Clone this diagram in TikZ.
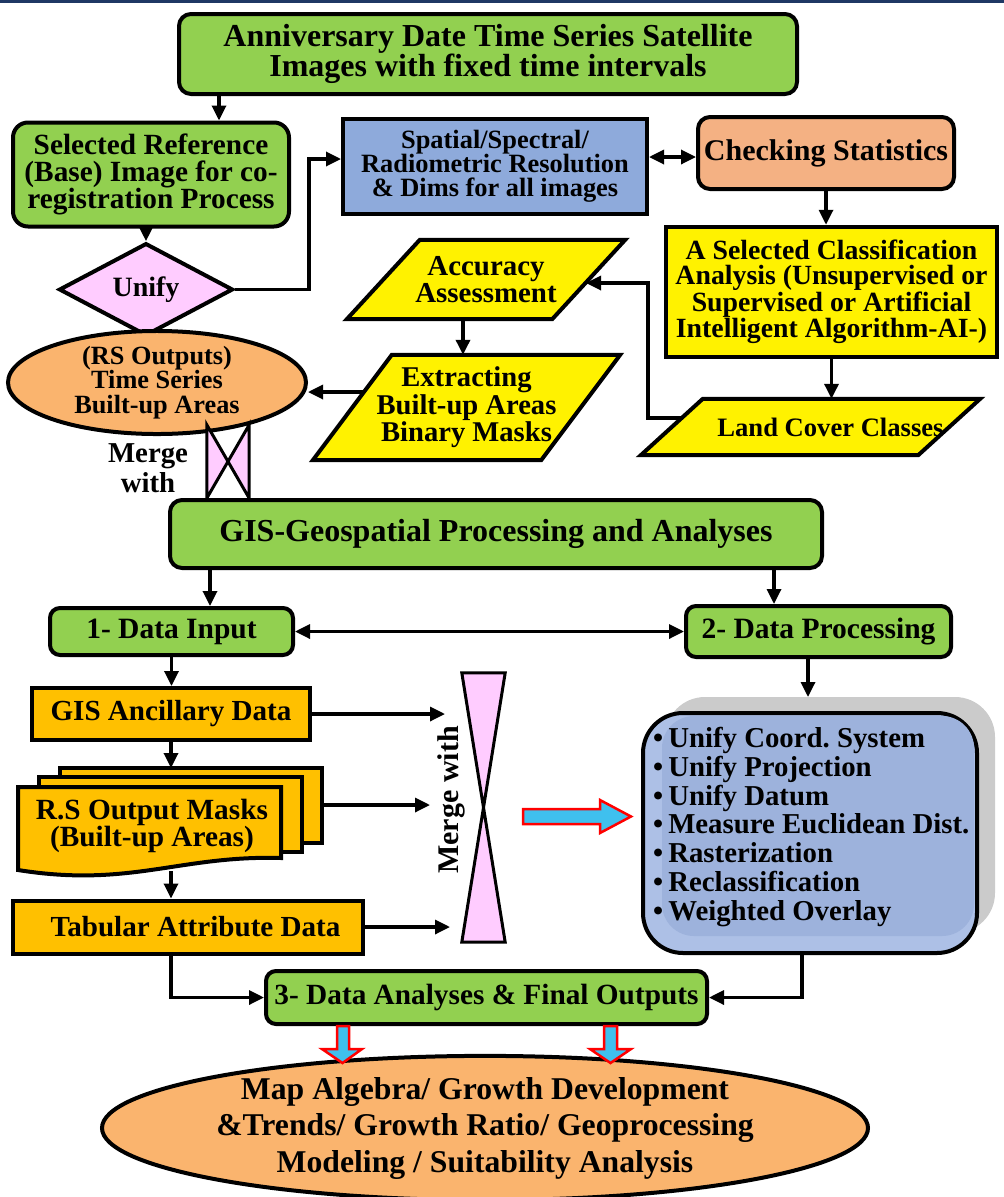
\documentclass[tikz,border=0pt]{standalone}
\usepackage{fontspec}
\setmainfont{Liberation Serif}
\usetikzlibrary{arrows.meta,calc,shapes.geometric}
\pgfdeclarelayer{bg}
\pgfsetlayers{bg,main}

\definecolor{boxgreen}{HTML}{92D050}
\definecolor{lilac}{HTML}{FFCCFF}
\definecolor{steel}{HTML}{8EAADB}
\definecolor{peach}{HTML}{F4B183}
\definecolor{amber}{HTML}{FFC000}
\definecolor{apricot}{HTML}{FAB46E}
\definecolor{listblue}{HTML}{ADC0E6}
\definecolor{listbluedeep}{HTML}{9DB2DC}
\definecolor{shadowgray}{HTML}{CBCBCB}
\definecolor{skyfill}{HTML}{3FC0EE}
\definecolor{navy}{HTML}{1F3864}

\frenchspacing
\newcommand\fsz[2]{\fontsize{#1pt}{#2pt}\selectfont\bfseries}
% parallelogram drawn behind a (borderless) node: node, skew, fill
\newcommand\parashape[3]{%
  \begin{pgfonlayer}{bg}
    \draw[outline, fill=#3] ($(#1.north west)+(#2,0)$) -- (#1.north east)
      -- ($(#1.south east)-(#2,0)$) -- (#1.south west) -- cycle;
  \end{pgfonlayer}}
\newcommand\itembullet{\textbullet\hspace{5pt}}

\tikzset{
  outline/.style={draw=black, line width=4pt, line join=miter},
  txt/.style={inner sep=0pt, align=center, text=black},
  rbox/.style={txt, outline, rounded corners=12pt},
  sbox/.style={txt, outline},
  flow/.style={line width=3.3pt, -{Triangle[length=15pt,width=14pt]}},
  twoway/.style={line width=3.3pt, {Triangle[length=15pt,width=14pt]}-{Triangle[length=15pt,width=14pt]}},
  blockarrow/.style={draw=red, line width=2.5pt, fill=skyfill, line join=miter},
}

\begin{document}
\begin{tikzpicture}[x=1pt,y=-1pt]
\useasboundingbox (0,0) rectangle (1004,1197);
\fill[navy] (0,0) rectangle (1004,2.5);

% ---------- remote sensing part ----------
\node[rbox, fill=boxgreen, minimum width=618pt, minimum height=80pt, font=\fsz{32}{30}]
  (top) at (488,54) {Anniversary Date Time Series Satellite\\Images with fixed time intervals};
\node[rbox, fill=boxgreen, rounded corners=15pt, minimum width=276pt, minimum height=104pt, font=\fsz{29.3}{27}]
  (sel) at (151,174.5) {Selected Reference\\(Base) Image for co-\\registration Process};
\node[diamond, outline, fill=lilac, txt, minimum width=174pt, minimum height=80pt, font=\fsz{28}{28}]
  (unify) at (146,289.5) {Unify};
\node[sbox, fill=steel, minimum width=304pt, minimum height=95pt, font=\fsz{26.4}{24}]
  (spa) at (495,166.5) {Spatial/Spectral/\\Radiometric Resolution\\\& Dims for all images};
\node[rbox, fill=peach, minimum width=256pt, minimum height=72pt, font=\fsz{30}{30}]
  (chk) at (826,153) {Checking Statistics};
\node[sbox, fill=yellow, line width=4.5pt, minimum width=331pt, minimum height=130pt, font=\fsz{27.8}{25}]
  (cls) at (831.5,292) {A Selected Classification\\Analysis (Unsupervised or\\Supervised or Artificial\\Intelligent Algorithm-AI-)};

\node[txt, minimum width=278pt, minimum height=79pt, font=\fsz{28.9}{27}]
  (acc) at (486,279.5) {Accuracy\\Assessment};
\parashape{acc}{73}{yellow}
\node[txt, minimum width=307pt, minimum height=105pt, font=\fsz{28.6}{27.5}]
  (ext) at (466.5,407.5) {Extracting\\Built-up Areas\\Binary Masks};
\parashape{ext}{79}{yellow}
\node[txt, minimum width=339pt, minimum height=56pt, font=\fsz{26.6}{27}]
  (lcc) at (810.5,427) {\hspace*{40pt}Land Cover Classes};
\parashape{lcc}{62}{yellow}

\node[ellipse, outline, fill=apricot, txt, minimum width=298pt, minimum height=95pt, font=\fsz{26.3}{24.5}]
  (rs) at (157,382.5) {(RS Outputs)\\Time Series\\Built-up Areas};

% merge (collate) symbol below the RS outputs
\node[inner sep=0pt, minimum width=42pt, minimum height=73pt] (col) at (228,461.5) {};
\draw[outline, line width=3pt, fill=lilac] (col.north west) -- (col.south east) -- (col.north east)
  -- (col.south west) -- cycle;
\node[txt, font=\fsz{28.8}{30}] (mw1) at (148,468) {Merge\\with};

% connectors of the upper part
\coordinate (topOut) at ($(top.south west)+(42,0)$);
\draw[flow] (topOut) -- (topOut |- sel.north);
\draw[flow] (sel.south -| unify.north) -- (unify.north);
\coordinate (spaIn) at ($(spa.west)+(0,-7.5)$);
\draw[flow] (unify.east) -- ++(74,0) |- (spaIn);
\coordinate (pairY) at ($(chk.west)+(0,4)$);
\draw[twoway] (spa.east |- pairY) -- (pairY);
\draw[flow] (chk.south) -- (chk.south |- cls.north);
\draw[flow] (cls.south) -- (cls.south |- lcc.north);
\coordinate (lccW) at (682,418);
\coordinate (accE) at (586,283);
\draw[flow] (lccW) -- ++(-34,0) |- (accE);
\coordinate (accS) at (463,319);
\draw[flow] (accS) -- (accS |- ext.north);
\coordinate (extW) at (364,392);
\draw[flow] (extW) -- (rs.east |- extW);

% ---------- GIS part ----------
\node[rbox, fill=boxgreen, minimum width=652pt, minimum height=68pt, font=\fsz{32}{32}]
  (gis) at (496,534) {GIS-Geospatial Processing and Analyses};
\node[rbox, fill=boxgreen, rounded corners=10pt, minimum width=243pt, minimum height=47pt, font=\fsz{29.5}{30}]
  (din) at (171.5,631.5) {1- Data Input};
\node[rbox, fill=boxgreen, rounded corners=10pt, minimum width=265pt, minimum height=51pt, font=\fsz{29.5}{30}]
  (dpr) at (818.5,631.5) {2- Data Processing};

\coordinate (gisL) at ($(gis.south west)+(42,0)$);
\coordinate (gisR) at ($(gis.south east)+(-50,0)$);
\draw[flow] (gisL) -- (gisL |- din.north);
\draw[flow] (gisR) -- (gisR |- dpr.north);
\draw[twoway] (din.east) -- (dpr.west);

% input data
\node[sbox, fill=amber, minimum width=278pt, minimum height=52pt, font=\fsz{29.1}{30}]
  (anc) at (171,714) {GIS Ancillary Data};
\begin{pgfonlayer}{bg}
  \draw[outline, fill=amber] (60,768) rectangle (322,843);
  \draw[outline, fill=amber] (39,777) rectangle (302,852);
  \draw[outline, fill=amber] (18,787) -- (281,787) -- (281,858)
    .. controls (180,855) and (130,888) .. (18,870) -- cycle;
\end{pgfonlayer}
\node[txt, font=\fsz{29.3}{27}] (rsm) at (152,826) {R.S Output Masks\\(Built-up Areas)};
\node[sbox, fill=amber, minimum width=350pt, minimum height=53pt, font=\fsz{29.1}{30}]
  (tab) at (188,927) {\hspace*{15pt}Tabular Attribute Data};

% hourglass merge symbol
\node[inner sep=0pt, minimum width=43pt, minimum height=269pt] (hg) at (483.5,807.5) {};
\draw[outline, line width=3pt, fill=lilac] (hg.north west) -- (hg.north east) -- (hg.south west)
  -- (hg.south east) -- cycle;
\node[txt, rotate=90, font=\fsz{30}{30}] (mwv) at (451,800) {Merge with};

\draw[flow] (din.south) -- (din.south |- anc.north);
\coordinate (hgA) at (445,713);
\draw[flow] (anc.east) -- (anc.east -| hgA);
\coordinate (stackTop) at (171,768);
\draw[flow] (anc.south -| stackTop) -- (stackTop);
\coordinate (stackE) at (322,805);
\coordinate (hgB) at (430,805);
\draw[flow] (stackE) -- (hgB);
\coordinate (stackS) at (171,871);
\draw[flow] (stackS) -- (stackS |- tab.north);
\coordinate (hgC) at (450,925);
\draw[flow] (tab.east) -- (tab.east -| hgC);

% red block arrow towards the processing list
\draw[blockarrow] (523,809) -- (600,809) -- (600,800) -- (631,816.5) -- (600,833)
  -- (600,824) -- (523,824) -- cycle;

% processing list with its shadow
\begin{pgfonlayer}{bg}
  \fill[shadowgray, rounded corners=40pt] (665,697) rectangle (995,933);
\end{pgfonlayer}
\node[outline, fill=listblue, rounded corners=40pt, minimum width=334pt, minimum height=240pt]
  (lst) at (810,833) {};
\fill[listbluedeep, rounded corners=32pt] (662,716) rectangle (974,936);
\node[anchor=west, inner sep=0pt, align=left, font=\fsz{28.8}{28.8}]
  (lsttxt) at (653,827) {\itembullet Unify Coord. System\\\itembullet Unify Projection\\\itembullet Unify Datum\\\itembullet Measure Euclidean Dist.\\\itembullet Rasterization\\\itembullet Reclassification\\\itembullet Weighted Overlay};
\coordinate (lstIn) at (808,697);
\draw[flow] (lstIn |- dpr.south) -- (lstIn);

% analyses and outputs
\node[rbox, fill=boxgreen, rounded corners=10pt, minimum width=441pt, minimum height=53pt, font=\fsz{29.3}{30}]
  (das) at (486.5,997.5) {3- Data Analyses \& Final Outputs};
\draw[flow] (tab.south -| stackS) |- (das.west);
\coordinate (lstOut) at ($(lst.south)+(-8,0)$);
\draw[flow] (lstOut) |- (das.east);

\node[ellipse, outline, fill=apricot, txt, minimum width=766pt, minimum height=136pt, font=\fsz{31.7}{36.5}]
  (fin) at (485,1128) {Map Algebra/ Growth Development\\\&Trends/ Growth Ratio/ Geoprocessing\\Modeling / Suitability Analysis};

\draw[blockarrow] (337,1026) -- (349,1026) -- (349,1049) -- (362,1049) -- (342.5,1063)
  -- (322,1049) -- (337,1049) -- cycle;
\draw[blockarrow] (604,1026) -- (617,1026) -- (617,1049) -- (631,1049) -- (610.5,1063)
  -- (590,1049) -- (604,1049) -- cycle;
\end{tikzpicture}
\end{document}
